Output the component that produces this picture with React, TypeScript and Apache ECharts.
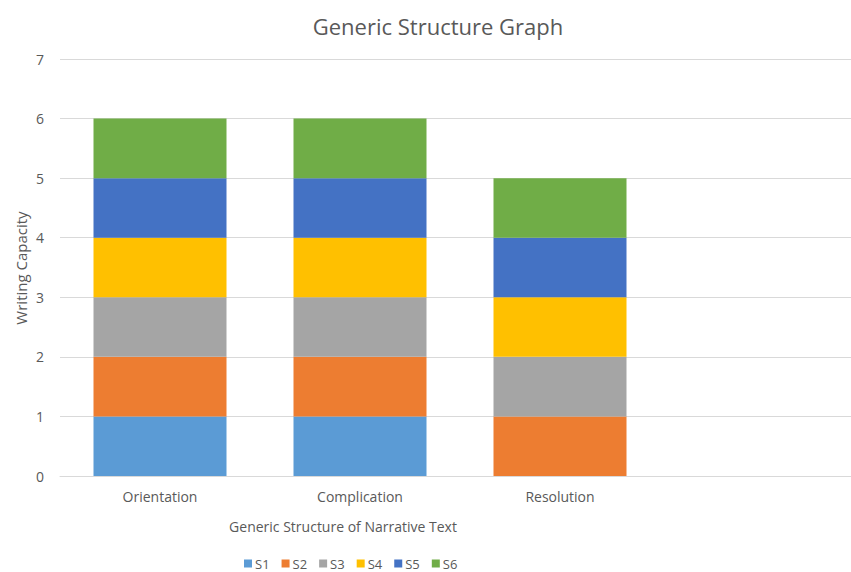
import React, { useEffect, useRef } from "react";
import * as echarts from "echarts";

const categories = ["Orientation", "Complication", "Resolution", ""];
const seriesNames = ["S1", "S2", "S3", "S4", "S5", "S6"];
const s1 = [1, 1, 0, null];
const s2 = [1, 1, 1, null];
const s3 = [1, 1, 1, null];
const s4 = [1, 1, 1, null];
const s5 = [1, 1, 1, null];
const s6 = [1, 1, 1, null];
const seriesValues = [s1, s2, s3, s4, s5, s6];
const colors = ["#5B9BD5", "#ED7D31", "#A5A5A5", "#FFC000", "#4472C4", "#70AD47"];
const yTicks = { min: 0, max: 7, interval: 1 };

const FONT = "'Open Sans', 'Noto Sans', sans-serif";
const TXT = "#595959";

export default function App() {
  const ref = useRef<HTMLDivElement>(null);
  useEffect(() => {
    if (!ref.current) return;
    const chart = echarts.init(ref.current, null, { renderer: "svg" });
    chart.setOption({
      animation: false,
      backgroundColor: "#ffffff",
      textStyle: { fontFamily: FONT },
      title: {
        text: "Generic Structure Graph",
        left: 433,
        top: 10,
        textAlign: "center",
        textStyle: { fontFamily: FONT, fontSize: 22, fontWeight: "normal", color: TXT },
      },
      graphic: [
        {
          type: "text",
          x: 343,
          y: 526,
          style: {
            text: "Generic Structure of Narrative Text",
            fontFamily: FONT,
            fontSize: 14,
            fill: TXT,
            align: "center",
            verticalAlign: "middle",
          },
        },
        {
          type: "text",
          x: 21,
          y: 268,
          rotation: Math.PI / 2,
          style: {
            text: "Writing Capacity",
            fontFamily: FONT,
            fontSize: 15,
            fill: TXT,
            align: "center",
            verticalAlign: "middle",
          },
        },
      ],
      legend: {
        data: seriesNames,
        left: 244,
        top: 557,
        padding: 0,
        itemWidth: 8,
        itemHeight: 8,
        itemGap: 12,
        icon: "rect",
        textStyle: { fontFamily: FONT, fontSize: 13, color: TXT, padding: [0, 0, 0, -2] },
      },
      grid: {
        left: 60,
        top: 59,
        width: 800,
        height: 417,
        containLabel: false,
        outerBoundsMode: "none",
      },
      xAxis: {
        type: "category",
        data: categories,
        axisLine: { show: true, lineStyle: { color: "#D9D9D9" } },
        axisTick: { show: false },
        axisLabel: { color: TXT, fontFamily: FONT, fontSize: 14, margin: 13 },
      },
      yAxis: {
        type: "value",
        min: yTicks.min,
        max: yTicks.max,
        interval: yTicks.interval,
        axisLine: { show: false },
        axisTick: { show: false },
        splitLine: { lineStyle: { color: "#D9D9D9" } },
        axisLabel: { color: TXT, fontFamily: FONT, fontSize: 14, margin: 16 },
      },
      series: seriesNames.map((name, i) => ({
        name,
        type: "bar",
        stack: "total",
        data: seriesValues[i],
        barWidth: "66.5%",
        itemStyle: { color: colors[i] },
      })),
    });
    return () => chart.dispose();
  }, []);
  return (
    <div
      ref={ref}
      style={{ position: "absolute", left: 0, top: 0, width: 851, height: 572 }}
    />
  );
}
